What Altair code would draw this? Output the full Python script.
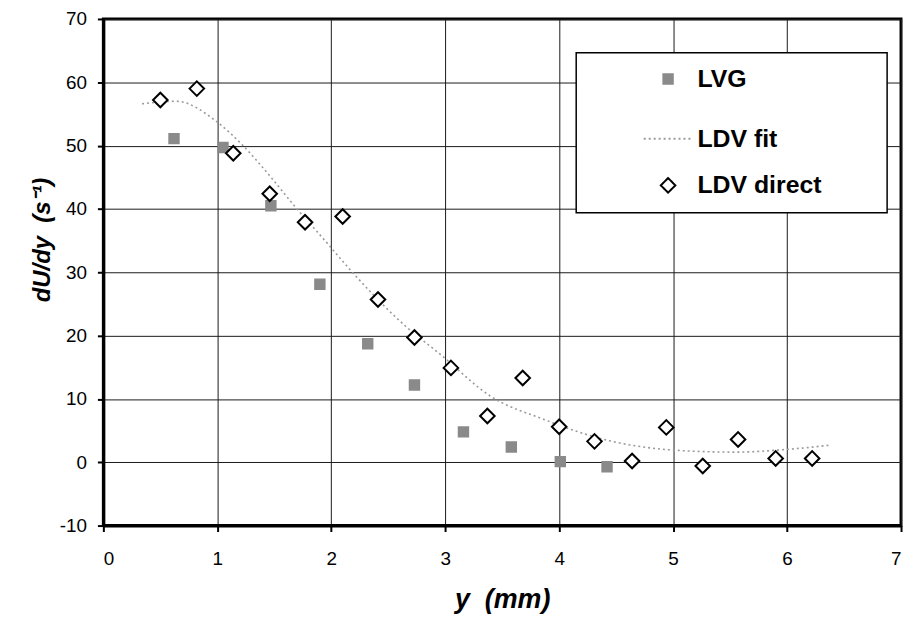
import altair as alt
import pandas as pd

series = ["LVG", "LDV fit", "LDV direct"]

lvg_x = [0.62, 1.05, 1.47, 1.90, 2.32, 2.73, 3.16, 3.58, 4.01, 4.42]
lvg_y = [51.1, 49.7, 40.5, 28.1, 18.7, 12.2, 4.8, 2.4, 0.1, -0.7]

direct_x = [0.50, 0.82, 1.14, 1.46, 1.77, 2.10, 2.41, 2.73, 3.05, 3.37,
            3.68, 4.00, 4.31, 4.64, 4.94, 5.26, 5.57, 5.90, 6.22]
direct_y = [57.2, 59.0, 48.8, 42.4, 37.9, 38.8, 25.7, 19.7, 14.9, 7.3,
            13.3, 5.6, 3.3, 0.2, 5.5, -0.6, 3.6, 0.6, 0.6]

fit_x = [0.34, 0.64, 1.00, 1.22, 1.48, 1.68, 1.94, 2.18, 2.67, 2.96,
         3.40, 3.86, 4.44, 5.11, 5.55, 5.98, 6.38]
fit_y = [56.6, 57.0, 53.7, 50.1, 44.8, 40.4, 35.1, 30.1, 21.2, 17.0,
         10.4, 6.8, 3.4, 1.8, 1.6, 2.0, 2.7]

x_ticks = [0, 1, 2, 3, 4, 5, 6, 7]
y_ticks = [-10, 0, 10, 20, 30, 40, 50, 60, 70]

lvg_df = pd.DataFrame({"x": lvg_x, "y": lvg_y, "series": series[0]})
fit_df = pd.DataFrame({"x": fit_x, "y": fit_y, "series": series[1]})
direct_df = pd.DataFrame({"x": direct_x, "y": direct_y, "series": series[2]})

FONT = "Liberation Sans"
NB = "\u00a0"

x_enc = alt.X(
    "x:Q",
    scale=alt.Scale(domain=[0, 7], nice=False, zero=False),
    axis=alt.Axis(
        values=x_ticks,
        title="y" + NB * 2 + "(mm)",
        labelFontSize=19,
        labelPadding=18,
        titlePadding=18,
        titleFontSize=27,
    ),
)
y_enc = alt.Y(
    "y:Q",
    scale=alt.Scale(domain=[-10, 70], nice=False, zero=False),
    axis=alt.Axis(
        values=y_ticks,
        title="dU/dy" + NB * 2 + "(s\u207b\u00b9)",
        labelFontSize=19,
        labelPadding=11,
        titleFontSize=24,
        titleX=-49,
        titleY=222,
        labelExpr="replace(datum.label, '\u2212', '-')",
    ),
)

# invisible legend title, used only to widen the legend frame
leg = alt.Legend(title="MM")

shape_scale = alt.Scale(domain=series, range=["square", "stroke", "diamond"])
fill_scale = alt.Scale(domain=series, range=["#8a8a8a", "transparent", "white"])
stroke_scale = alt.Scale(domain=series, range=["#8a8a8a", "#9a9a9a", "black"])
size_scale = alt.Scale(type="ordinal", domain=series, range=[90, 2400, 215])
dash_scale = alt.Scale(domain=series, range=[[1, 0], [2, 3], [1, 0]])

def point_layer(df):
    return alt.Chart(df).mark_point(filled=False, strokeWidth=2, opacity=1).encode(
        x=x_enc,
        y=y_enc,
        shape=alt.Shape("series:N", scale=shape_scale, legend=leg),
        fill=alt.Fill("series:N", scale=fill_scale, legend=leg),
        stroke=alt.Stroke("series:N", scale=stroke_scale, legend=leg),
        size=alt.Size("series:N", scale=size_scale, legend=leg),
    )

fit_layer = alt.Chart(fit_df).mark_line(strokeWidth=1.6, interpolate="monotone").encode(
    x=x_enc,
    y=y_enc,
    stroke=alt.Stroke("series:N", scale=stroke_scale, legend=leg),
    strokeDash=alt.StrokeDash("series:N", scale=dash_scale, legend=leg),
)

chart = (
    alt.layer(fit_layer, point_layer(lvg_df), point_layer(direct_df))
    .properties(
        width=803,
        height=510,
        autosize=alt.AutoSizeParams(type="none"),
        padding={"left": 96, "top": 9, "right": 4, "bottom": 88},
    )
    .configure_view(stroke="black", strokeWidth=3)
    .configure_axis(
        grid=True,
        gridColor="#1a1a1a",
        gridWidth=1,
        gridOpacity=1,
        domainColor="black",
        domainWidth=3,
        tickColor="black",
        tickWidth=2,
        tickSize=6,
        labelFont=FONT,
        labelColor="black",
        titleFont=FONT,
        titleFontWeight="bold",
        titleFontStyle="italic",
        titleColor="black",
    )
    .configure_legend(
        orient="none",
        legendX=476,
        legendY=34,
        fillColor="white",
        strokeColor="black",
        strokeWidth=1.5,
        padding=14,
        symbolOffset=53,
        labelOffset=4,
        labelFont=FONT,
        labelFontSize=25,
        labelFontWeight="bold",
        labelColor="black",
        labelLimit=300,
        rowPadding=21,
        symbolStrokeWidth=2,
        cornerRadius=0,
        titleOrient="right",
        titleFont=FONT,
        titleFontSize=25,
        titleFontWeight="bold",
        titlePadding=10,
        titleOpacity=0,
    )
)

chart.save("out.html", embed_options={"renderer": "svg", "actions": False})
